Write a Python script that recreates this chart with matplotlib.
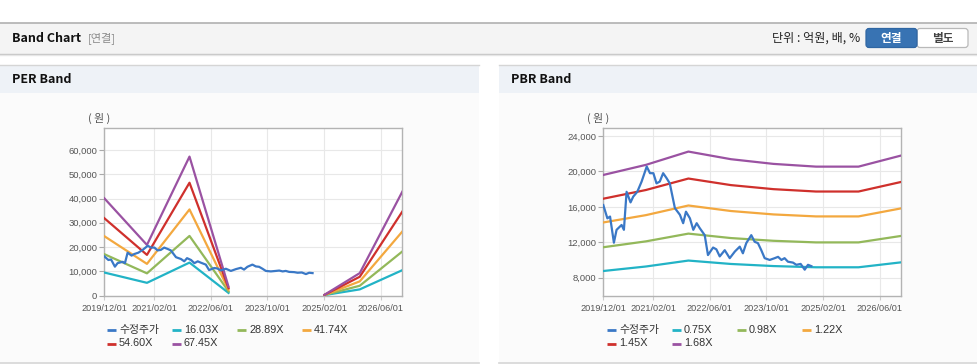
import numpy as np
import pandas as pd
import matplotlib
matplotlib.use('Agg')
import matplotlib.pyplot as plt
from matplotlib.patches import Rectangle, FancyBboxPatch
from matplotlib.ticker import FixedLocator, FuncFormatter

plt.rcParams['font.family'] = ['Noto Sans CJK KR', 'DejaVu Sans']

# ---------------- data ----------------
price_dates = ['2019-12-01', '2020-01-05', '2020-01-28', '2020-03-01', '2020-03-24', '2020-05-06',
               '2020-05-26', '2020-06-18', '2020-07-22', '2020-08-14', '2020-09-18', '2020-10-25',
               '2020-12-08', '2021-01-05', '2021-02-03', '2021-03-02', '2021-03-30', '2021-04-28',
               '2021-05-27', '2021-06-24', '2021-08-07', '2021-09-19', '2021-10-17', '2021-11-10',
               '2021-12-14', '2022-01-12', '2022-02-10', '2022-03-08', '2022-04-20', '2022-05-18',
               '2022-07-01', '2022-07-29', '2022-08-27', '2022-10-09', '2022-11-21', '2023-01-04',
               '2023-02-15', '2023-03-14', '2023-04-12', '2023-05-25', '2023-06-23', '2023-07-21',
               '2023-08-19', '2023-09-17', '2023-10-30', '2023-12-12', '2024-01-10', '2024-02-08',
               '2024-03-06', '2024-04-04', '2024-05-17', '2024-06-15', '2024-07-22', '2024-08-26',
               '2024-09-23', '2024-10-22']
price_values = [16200, 14700, 14900, 11950, 13400, 13950,
                13400, 17700, 16500, 17150, 17700, 18850,
                20550, 19800, 19800, 18650, 18850, 19800,
                19250, 18650, 15850, 15100, 14150, 15450,
                14700, 13400, 14150, 13600, 12800, 10550,
                11400, 11200, 10400, 11100, 10200, 10950,
                11500, 10750, 11900, 12800, 12050, 11900,
                11100, 10200, 10000, 10200, 10350, 10000,
                10200, 9800, 9700, 9450, 9550, 8900,
                9450, 9300]

per_band_dates = ['2019-12-01', '2020-12-01', '2021-12-01', '2022-11-01', '2024-01-01',
                  '2025-02-01', '2025-12-01', '2026-12-01']
per_labels = ['16.03X', '28.89X', '41.74X', '54.60X', '67.45X']
per_16_03 = [9538, 5300, 13626, 1150, np.nan, 250, 2600, 10500]
per_28_89 = [17100, 9200, 24600, 1800, np.nan, 280, 4100, 18200]
per_41_74 = [24500, 13100, 35500, 2500, np.nan, 310, 5900, 26400]
per_54_60 = [31900, 16800, 46500, 3100, np.nan, 340, 7800, 34600]
per_67_45 = [40100, 20900, 57250, 3700, np.nan, 370, 9300, 42800]

pbr_band_dates = ['2019-12-01', '2020-12-01', '2021-12-01', '2022-12-01', '2023-12-01',
                  '2024-12-01', '2025-12-01', '2026-12-01']
pbr_labels = ['0.75X', '0.98X', '1.22X', '1.45X', '1.68X']
pbr_0_75 = [8750, 9259, 9929, 9545, 9308, 9170, 9170, 9728]
pbr_0_98 = [11434, 12098, 12973, 12471, 12163, 11981, 11981, 12711]
pbr_1_22 = [14234, 15061, 16150, 15526, 15141, 14916, 14916, 15823]
pbr_1_45 = [16917, 17900, 19195, 18453, 17996, 17728, 17728, 18807]
pbr_1_68 = [19600, 20740, 22240, 21380, 20850, 20540, 20540, 21790]

price_label = '수정주가'
xtick_dates = ['2019-12-01', '2021-02-01', '2022-06-01', '2023-10-01', '2025-02-01', '2026-06-01']
per_yticks = [0, 10000, 20000, 30000, 40000, 50000, 60000]
pbr_yticks = [8000, 12000, 16000, 20000, 24000]

# ---------------- style ----------------
C_PRICE = '#3a78c6'
BAND_COLORS = ['#22b3c6', '#93b85a', '#f3a83f', '#cf302c', '#9a52a2']
W, H = 978, 364

fig = plt.figure(figsize=(W / 100, H / 100), dpi=100)
fig.patch.set_facecolor('white')

bg = fig.add_axes([0, 0, 1, 1], zorder=-5)
bg.set_xlim(0, W)
bg.set_ylim(H, 0)
bg.axis('off')

# top header bar
bg.add_patch(Rectangle((0, 22.5), W, 31, fc='#f4f4f4', ec='none'))
bg.plot([0, W], [22.5, 22.5], color='#b0b0b0', lw=1.2)
bg.plot([0, W], [53.5, 53.5], color='#c4c4c4', lw=1.0)
bg.plot([0, W], [54.5, 54.5], color='#e6e6e6', lw=1.0)
bg.text(12, 38.5, 'Band Chart', fontsize=9.0, fontweight='bold', color='#111111', va='center', ha='left')
bg.text(88, 38.5, '[연결]', fontsize=8.0, color='#8a8a8a', va='center', ha='left')
bg.text(860, 38.5, '단위 : 억원, 배, %', fontsize=8.7, color='#222222', va='center', ha='right')
bg.add_patch(FancyBboxPatch((917, 28.5), 51, 19, boxstyle='round,pad=0,rounding_size=3',
                            fc='white', ec='#b9b9b9', lw=0.9))
bg.add_patch(FancyBboxPatch((866, 28.5), 51, 19, boxstyle='round,pad=0,rounding_size=3',
                            fc='#3873b3', ec='#2f66a3', lw=0.9))
bg.text(891.5, 38.5, '연결', fontsize=8.4, fontweight='bold', color='white', va='center', ha='center')
bg.text(942.5, 38.5, '별도', fontsize=8.4, fontweight='bold', color='#444444', va='center', ha='center')

# panels
for (x0, x1, title) in [(0, 479, 'PER Band'), (499, 978, 'PBR Band')]:
    bg.add_patch(Rectangle((x0, 93), x1 - x0, 269, fc='#fbfbfb', ec='none'))
    bg.add_patch(Rectangle((x0, 64.5), x1 - x0, 28.5, fc='#eef2f7', ec='none'))
    bg.plot([x0, x1], [64.5, 64.5], color='#d5d5d5', lw=1.0)
    bg.plot([x0, x1], [362.5, 362.5], color='#d5d5d5', lw=1.2)
    bg.text(x0 + 12, 79.5, title, fontsize=9.0, fontweight='bold', color='#111111', va='center', ha='left')

tick_font = ['Liberation Sans', 'DejaVu Sans']
leg_font = ['Liberation Sans', 'Noto Sans CJK KR', 'DejaVu Sans']

xt = pd.to_datetime(xtick_dates)
xlim = (pd.Timestamp('2019-12-01'), pd.Timestamp('2026-12-01'))


def setup_axes(ax, yticks, ylim):
    ax.set_facecolor('white')
    ax.set_xlim(xlim)
    ax.set_ylim(ylim)
    ax.xaxis.set_major_locator(FixedLocator(matplotlib.dates.date2num(xt)))
    ax.set_xticklabels([d.strftime('%Y/%m/%d') for d in xt], fontsize=6.6, family=tick_font, color='#555555')
    ax.set_yticks(yticks)
    ax.yaxis.set_major_formatter(FuncFormatter(lambda v, p: f'{int(v):,}'))
    for lab in ax.get_yticklabels():
        lab.set_family(tick_font)
        lab.set_fontsize(6.8)
        lab.set_color('#555555')
    ax.tick_params(axis='y', length=3.5, width=0.8, color='#aaaaaa', pad=1.5, labelsize=6.8, labelcolor='#555555')
    ax.tick_params(axis='x', length=3, width=0.8, color='#cccccc', pad=3, labelsize=6.6, labelcolor='#555555')
    ax.grid(True, color='#e8e8e8', lw=0.8)
    ax.set_axisbelow(True)
    for s in ax.spines.values():
        s.set_color('#b3b3b3')
        s.set_linewidth(1.0)


def draw_legend(x0, labels):
    names = [price_label] + labels
    colors = [C_PRICE] + BAND_COLORS
    for i, (n, c) in enumerate(zip(names, colors)):
        col, row = i % 4, i // 4
        x = x0 + col * 65
        y = 330 + row * 13.5
        bg.plot([x, x + 9], [y, y], color=c, lw=2.0, solid_capstyle='butt')
        bg.text(x + 12, y, n, fontsize=7.8, family=leg_font, color='#333333', va='center', ha='left')


pdates = pd.to_datetime(price_dates)

# PER
ax1 = fig.add_axes([104.3 / W, 1 - 295.7 / H, 298 / W, 167.4 / H])
setup_axes(ax1, per_yticks, (0, 68900))
bd = pd.to_datetime(per_band_dates)
for vals, c in zip([per_16_03, per_28_89, per_41_74, per_54_60, per_67_45], BAND_COLORS):
    ax1.plot(bd, vals, color=c, lw=1.6, zorder=3)
ax1.plot(pdates, price_values, color=C_PRICE, lw=1.6, zorder=4)
bg.text(99, 118, '( 원 )', fontsize=7.8, color='#555555', va='center', ha='center')
draw_legend(107, per_labels)

# PBR
ax2 = fig.add_axes([603.3 / W, 1 - 295.7 / H, 297.7 / W, 167.4 / H])
setup_axes(ax2, pbr_yticks, (5960, 24870))
bd2 = pd.to_datetime(pbr_band_dates)
for vals, c in zip([pbr_0_75, pbr_0_98, pbr_1_22, pbr_1_45, pbr_1_68], BAND_COLORS):
    ax2.plot(bd2, vals, color=c, lw=1.6, zorder=3)
ax2.plot(pdates, price_values, color=C_PRICE, lw=1.6, zorder=4)
bg.text(598, 118, '( 원 )', fontsize=7.8, color='#555555', va='center', ha='center')
draw_legend(607, pbr_labels)

fig.savefig('out.png', dpi=100, facecolor='white')
